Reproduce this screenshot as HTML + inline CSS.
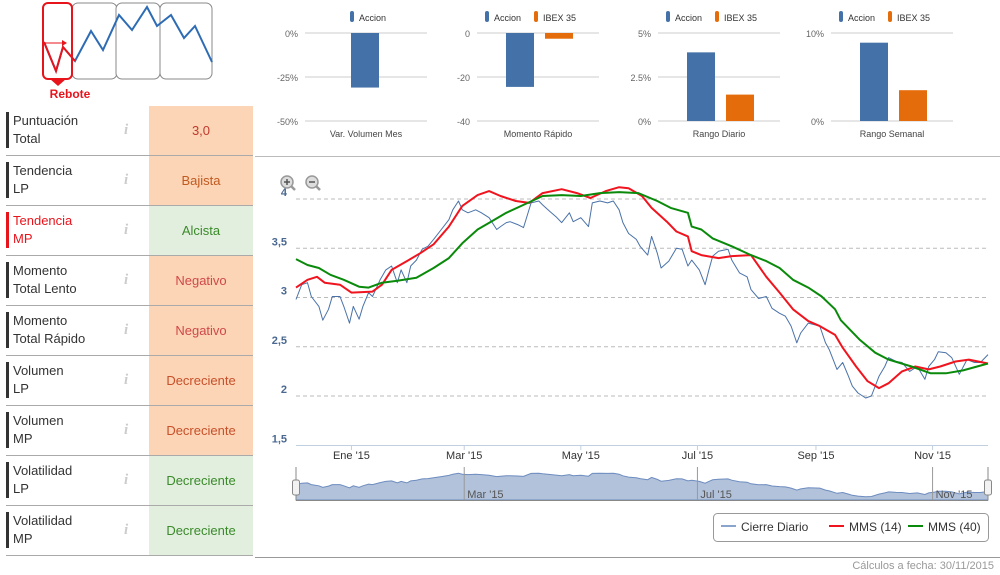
<!DOCTYPE html>
<html><head><meta charset="utf-8">
<style>
body{margin:0;width:1000px;height:575px;background:#fff;font-family:"Liberation Sans",sans-serif;overflow:hidden;position:relative}
.row{position:absolute;left:6px;width:247px;height:49px;border-bottom:1px solid #aaa}
.lab{position:absolute;left:0;top:6px;height:36px;border-left:3px solid #333;padding-left:4px;font-size:13px;line-height:18px;color:#333}
.info{position:absolute;left:118px;top:16px;font-family:"Liberation Serif",serif;font-style:italic;font-weight:bold;color:#ccc;font-size:15px}
.val{position:absolute;left:143px;top:0;width:104px;height:49px;line-height:49px;text-align:center;font-size:13px}
.o{background:#fbd5b6}.g{background:#e2efdf}
svg text{font-family:"Liberation Sans",sans-serif}
</style></head><body>
<svg width="260" height="106" style="position:absolute;left:0;top:0">
<rect x="72" y="3" width="45" height="76" rx="6" fill="#fff" stroke="#888"/>
<rect x="116" y="3" width="44" height="76" rx="6" fill="#fff" stroke="#888"/>
<rect x="160" y="3" width="52" height="76" rx="6" fill="#fff" stroke="#888"/>
<rect x="43" y="3" width="29" height="76" rx="5" fill="#fff" stroke="#e8141c" stroke-width="2"/>
<path d="M50 79 L58 86 L66 79Z" fill="#e8141c"/>
<polyline points="44,42 56,71 63,47 75,61 91,31 103,50 119,15 132,30 147,7 157,26 171,15 184,38 195,26 212,62" fill="none" stroke="#2d6cb4" stroke-width="2"/>
<polyline points="44,42 56,71 63,47 75,61" fill="none" stroke="#e8141c" stroke-width="2"/>
<line x1="45" y1="43" x2="64" y2="43" stroke="#e8141c"/><path d="M62 40 L67 43 L62 46Z" fill="#e8141c"/>
<text x="70" y="98" text-anchor="middle" font-size="12" font-weight="bold" fill="#e8141c">Rebote</text>
</svg>
<div style="position:absolute;left:6px;top:105px;width:247px;border-top:1px solid #fff"></div>
<div class="row" style="top:106px"><div class="lab">Puntuación<br>Total</div><div class="info">i</div><div class="val o" style="color:#c0392b">3,0</div></div>
<div class="row" style="top:156px"><div class="lab">Tendencia<br>LP</div><div class="info">i</div><div class="val o" style="color:#c25a20">Bajista</div></div>
<div class="row" style="top:206px"><div class="lab" style="border-color:#e8141c;color:#e8141c">Tendencia<br>MP</div><div class="info">i</div><div class="val g" style="color:#3a8a2a">Alcista</div></div>
<div class="row" style="top:256px"><div class="lab">Momento<br>Total Lento</div><div class="info">i</div><div class="val o" style="color:#d04848">Negativo</div></div>
<div class="row" style="top:306px"><div class="lab">Momento<br>Total Rápido</div><div class="info">i</div><div class="val o" style="color:#d04848">Negativo</div></div>
<div class="row" style="top:356px"><div class="lab">Volumen<br>LP</div><div class="info">i</div><div class="val o" style="color:#c8502a">Decreciente</div></div>
<div class="row" style="top:406px"><div class="lab">Volumen<br>MP</div><div class="info">i</div><div class="val o" style="color:#c8502a">Decreciente</div></div>
<div class="row" style="top:456px"><div class="lab">Volatilidad<br>LP</div><div class="info">i</div><div class="val g" style="color:#3a8a2a">Decreciente</div></div>
<div class="row" style="top:506px"><div class="lab">Volatilidad<br>MP</div><div class="info">i</div><div class="val g" style="color:#3a8a2a">Decreciente</div></div>

<svg id="c" width="1000" height="575" style="position:absolute;left:0;top:0"></svg>
<div style="position:absolute;right:6px;top:560px;font-size:11px;color:#999">Cálculos a fecha: 30/11/2015</div>
<script>
const priceDays=[0,3,6,8,12,14,17,19,23,25,28,30,33,35,38,40,44,47,50,53,55,58,60,63,66,69,72,76,80,82,85,87,90,94,97,101,105,107,110,112,116,119,123,127,129,133,136,139,143,145,149,153,155,159,163,166,169,171,174,178,180,184,186,189,191,195,199,202,205,207,211,214,216,218,221,226,228,232,236,238,242,246,249,253,256,259,262,264,268,272,274,277,279,283,286,289,291,294,298,301,305,308,310,314,317,321,325,329,331,334,336,340,343,347,351,355,358,362];
const priceVals=[2.98,3.13,3.15,3.01,2.91,2.77,2.88,3.01,3.01,2.91,2.74,2.91,2.78,2.91,3.05,3.01,3.18,3.28,3.32,3.15,3.28,3.15,3.32,3.38,3.49,3.52,3.59,3.69,3.79,3.89,3.98,3.89,3.86,3.89,3.86,3.81,3.69,3.72,3.76,3.77,3.74,3.71,3.96,3.98,3.94,3.87,3.82,3.76,3.86,3.77,3.81,3.72,3.96,3.98,3.96,3.98,3.89,3.76,3.65,3.59,3.52,3.43,3.62,3.45,3.30,3.37,3.50,3.49,3.32,3.38,3.28,3.13,3.28,3.42,3.47,3.49,3.38,3.25,3.21,3.08,2.99,3.01,2.89,2.84,2.81,2.71,2.54,2.64,2.74,2.72,2.71,2.54,2.47,2.27,2.34,2.20,2.10,2.03,1.98,2.00,2.20,2.30,2.39,2.35,2.34,2.25,2.30,2.17,2.30,2.37,2.45,2.44,2.39,2.22,2.37,2.34,2.34,2.42];
const mms14Days=[0,6,11,15,23,29,40,45,50,58,65,72,80,87,95,101,107,115,122,129,139,147,154,162,169,174,181,186,194,199,205,207,212,221,228,238,246,253,260,268,274,282,286,293,299,305,310,317,324,331,337,345,352,362];
const mms14Vals=[3.10,3.18,3.21,3.15,3.13,3.05,3.06,3.13,3.28,3.37,3.45,3.54,3.72,3.93,4.04,4.08,4.03,3.98,3.96,4.06,4.10,4.06,4.01,4.08,4.12,4.11,4.03,3.91,3.77,3.67,3.62,3.47,3.43,3.40,3.42,3.43,3.21,3.05,2.88,2.76,2.71,2.62,2.49,2.30,2.15,2.08,2.13,2.25,2.30,2.27,2.30,2.35,2.37,2.33];
const mms40Days=[0,6,12,18,25,33,38,45,53,63,72,80,87,95,102,110,119,129,139,149,159,169,179,189,196,205,207,212,218,228,238,246,253,260,268,275,282,285,295,303,310,322,332,340,349,362];
const mms40Vals=[3.39,3.33,3.30,3.23,3.18,3.11,3.10,3.15,3.17,3.20,3.30,3.40,3.55,3.69,3.77,3.86,3.94,4.03,4.04,4.03,4.06,4.07,4.06,3.98,3.91,3.86,3.72,3.69,3.60,3.52,3.43,3.37,3.30,3.18,3.10,3.01,2.88,2.77,2.57,2.44,2.37,2.30,2.23,2.23,2.26,2.33];
const yTicks=[1.5,2,2.5,3,3.5,4];
const yTickLabels=["1,5","2","2,5","3","3,5","4"];
const monthDays=[29,88,149,210,272,333];
const monthLabels=["Ene '15","Mar '15","May '15","Jul '15","Sep '15","Nov '15"];
const navDays=[88,210,333];
const navLabels=["Mar '15","Jul '15","Nov '15"];
// small bar charts
const barTitles=["Var. Volumen Mes","Momento Rápido","Rango Diario","Rango Semanal"];
const barAccion=[-31,-24.5,3.9,8.9];
const barIbex=[null,-2.6,1.5,3.5];
const barMin=[-50,-40,0,0];
const barMax=[0,0,5,10];
const barTickLabels=[["0%","-25%","-50%"],["0","-20","-40"],["5%","2.5%","0%"],["10%","0%"]];
const barTickVals=[[0,-25,-50],[0,-20,-40],[5,2.5,0],[10,0]];

const NS="http://www.w3.org/2000/svg",S=document.getElementById('c');
function mk(t,a,p){const e=document.createElementNS(NS,t);for(const k in a)e.setAttribute(k,a[k]);(p||S).appendChild(e);return e;}
function tx(x,y,s,a){const e=mk('text',Object.assign({x:x,y:y},a));e.textContent=s;return e;}

// bar charts
const bx=[305,477,658,831];
for(let i=0;i<4;i++){
  const x0=bx[i],w=122,top=33,bot=121;
  const ys=v=>top+(barMax[i]-v)/(barMax[i]-barMin[i])*(bot-top);
  const g=mk('g',{});
  
  
  barTickVals[i].forEach((v,j)=>{
    mk('line',{x1:x0,x2:x0+w,y1:ys(v),y2:ys(v),stroke:'#ccc'},g);
    tx(x0-7,ys(v)+4,barTickLabels[i][j],{'text-anchor':'end','font-size':9,fill:'#666'},g);
  });
  const hasI=barIbex[i]!==null;
  const bw=28,ax=hasI?x0+29:x0+46;
  const b0=ys(Math.max(barMin[i],Math.min(barMax[i],0)));
  let r=mk('rect',{x:ax,width:bw,y:Math.min(b0,ys(barAccion[i])),height:Math.abs(ys(barAccion[i])-b0),fill:'#4472a8'},g);
  
  
  if(hasI){r=mk('rect',{x:ax+39,width:bw,y:Math.min(b0,ys(barIbex[i])),height:Math.abs(ys(barIbex[i])-b0),fill:'#e46c0a'},g);
    
    }
  tx(x0+w/2,137,barTitles[i],{'text-anchor':'middle','font-size':9,fill:'#444'},g);
  const lx=hasI?x0+8:x0+45;
  mk('rect',{x:lx,y:11,width:4,height:11,rx:2,fill:'#4472a8'},g);
  tx(lx+9,21,'Accion',{'font-size':9,fill:'#333'},g);
  if(hasI){mk('rect',{x:lx+49,y:11,width:4,height:11,rx:2,fill:'#e46c0a'},g);tx(lx+58,21,'IBEX 35',{'font-size':9,fill:'#333'},g);}
}
mk('line',{x1:255,x2:1000,y1:156.5,y2:156.5,stroke:'#bbb'});

// main chart
const X0=296,X1=988,DAYS=362;
const xs=d=>X0+d*(X1-X0)/DAYS;
const ys=v=>199+(4-v)*98.5;
yTicks.forEach((v,i)=>{
  if(v>1.5)mk('line',{x1:X0,x2:X1,y1:ys(v),y2:ys(v),stroke:'#bbb','stroke-dasharray':'4,3'});
  tx(287,ys(v)-3,yTickLabels[i],{'text-anchor':'end','font-size':11,'font-weight':'bold',fill:'#4a6890'});
});
mk('line',{x1:X0,x2:X1,y1:445.5,y2:445.5,stroke:'#c0d0e0'});
monthDays.forEach((d,i)=>{
  mk('line',{x1:xs(d),x2:xs(d),y1:445,y2:450,stroke:'#c0d0e0'});
  tx(xs(d),459,monthLabels[i],{'text-anchor':'middle','font-size':11,fill:'#333'});
});
function line(days,vals,col,w,name){
  const p=mk('polyline',{points:days.map((d,i)=>xs(d).toFixed(1)+','+ys(vals[i]).toFixed(1)).join(' '),fill:'none',stroke:col,'stroke-width':w,'stroke-linejoin':'round'});
  
  
}
line(priceDays,priceVals,'#4a72a8',1,'series-cierre-diario');
line(mms14Days,mms14Vals,'#f0141e',2,'series-mms-14');
line(mms40Days,mms40Vals,'#0a8a0a',2,'series-mms-40');
// zoom icons
[287,312].forEach((cx,i)=>{mk('circle',{cx:cx,cy:182,r:6,fill:'#ddd',stroke:'#999','stroke-width':1.5});
  mk('line',{x1:cx+4,y1:186,x2:cx+8,y2:190,stroke:'#999','stroke-width':2.5});
  mk('line',{x1:cx-3,x2:cx+3,y1:182,y2:182,stroke:'#555','stroke-width':1.5});
  if(i==0)mk('line',{x1:cx,x2:cx,y1:179,y2:185,stroke:'#555','stroke-width':1.5});});
// navigator
const nt=472,nb=500;
const ny=v=>nb-(v-1.7)/(4.2-1.7)*(nb-nt)*1.05;
const nav=mk('polygon',{points:xs(0)+','+nb+' '+priceDays.map((d,i)=>xs(d).toFixed(1)+','+ny(priceVals[i]).toFixed(1)).join(' ')+' '+xs(DAYS)+','+nb,fill:'#b2c2da',stroke:'#6d8cbf','stroke-width':1});


navDays.forEach((d,i)=>{mk('line',{x1:xs(d),x2:xs(d),y1:467,y2:500,stroke:'#999'});
  tx(xs(d)+3,498,navLabels[i],{'font-size':11,fill:'#555'});});
mk('line',{x1:X0,x2:X1,y1:500.5,y2:500.5,stroke:'#888'});
[X0,X1].forEach(x=>{mk('line',{x1:x,x2:x,y1:467,y2:500,stroke:'#888'});
  const h=mk('rect',{x:x-3.5,y:480,width:7,height:15,rx:2,fill:'#f2f2f2',stroke:'#888'});
  
  });
// legend
const lg=mk('g',{});


mk('rect',{x:713.5,y:513.5,width:275,height:28,rx:4,fill:'#fff',stroke:'#999'},lg);
[['Cierre Diario','#8aa4cc',721],['MMS (14)','#f0141e',829],['MMS (40)','#0a8a0a',908]].forEach(a=>{
  mk('line',{x1:a[2],x2:a[2]+15,y1:526,y2:526,stroke:a[1],'stroke-width':2},lg);
  tx(a[2]+20,531,a[0],{'font-size':12,fill:'#333'},lg);});
mk('line',{x1:255,x2:1000,y1:557.5,y2:557.5,stroke:'#999'});
</script>
</body></html>
